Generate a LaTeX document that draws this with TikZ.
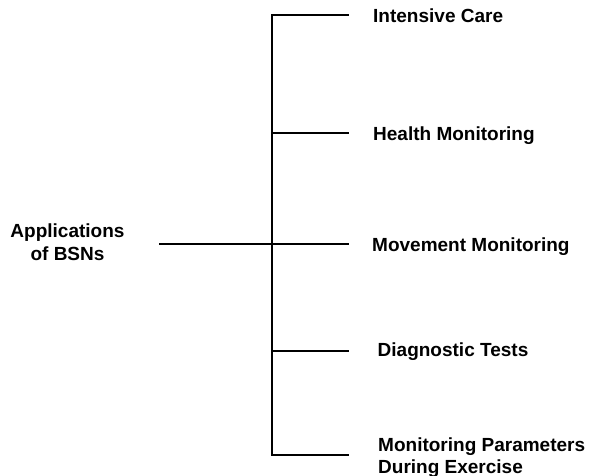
\documentclass[tikz,border=0pt]{standalone}
\usepackage{fontspec}
\setmainfont{Liberation Sans}
\begin{document}
\begin{tikzpicture}[x=1bp,y=-1bp,
  wire/.style={line width=2bp,black},
  label/.style={font=\fontsize{19bp}{22bp}\selectfont\bfseries,inner sep=0pt,anchor=base west},
  rootlabel/.style={font=\fontsize{19bp}{23bp}\selectfont\bfseries,inner sep=0pt,align=center}]
\useasboundingbox (0,0) rectangle (593,476);

% root text and its stub into the bus
\node[rootlabel] (root) at (67.5,242) {Applications\\of BSNs};
\coordinate (rootstub) at (159,244);
\coordinate (hub) at (272,244);

% vertical bus
\coordinate (bustop) at (272,15);
\coordinate (busbot) at (272,455);
\draw[wire,line cap=rect] (bustop) -- (busbot);
\draw[wire] (rootstub) -- (hub);

% branch junctions and tips
\foreach \n/\y in {a/15,b/133,c/244,d/351,e/455}{
  \coordinate (j\n) at (272,\y);
  \coordinate (t\n) at (349,\y);
  \draw[wire] (j\n) -- (t\n);
}

% leaf labels (base anchor of a two-line label sits on its last line)
\node[label] (care) at (373,23) {Intensive Care};
\node[label] (health) at (373,140.7) {Health Monitoring};
\node[label] (move) at (372,251.3) {Movement Monitoring};
\node[label] (diag) at (377.5,356) {Diagnostic Tests};
\node[label,align=left] (exer) at (378,473) {Monitoring Parameters\\During Exercise};
\end{tikzpicture}
\end{document}
